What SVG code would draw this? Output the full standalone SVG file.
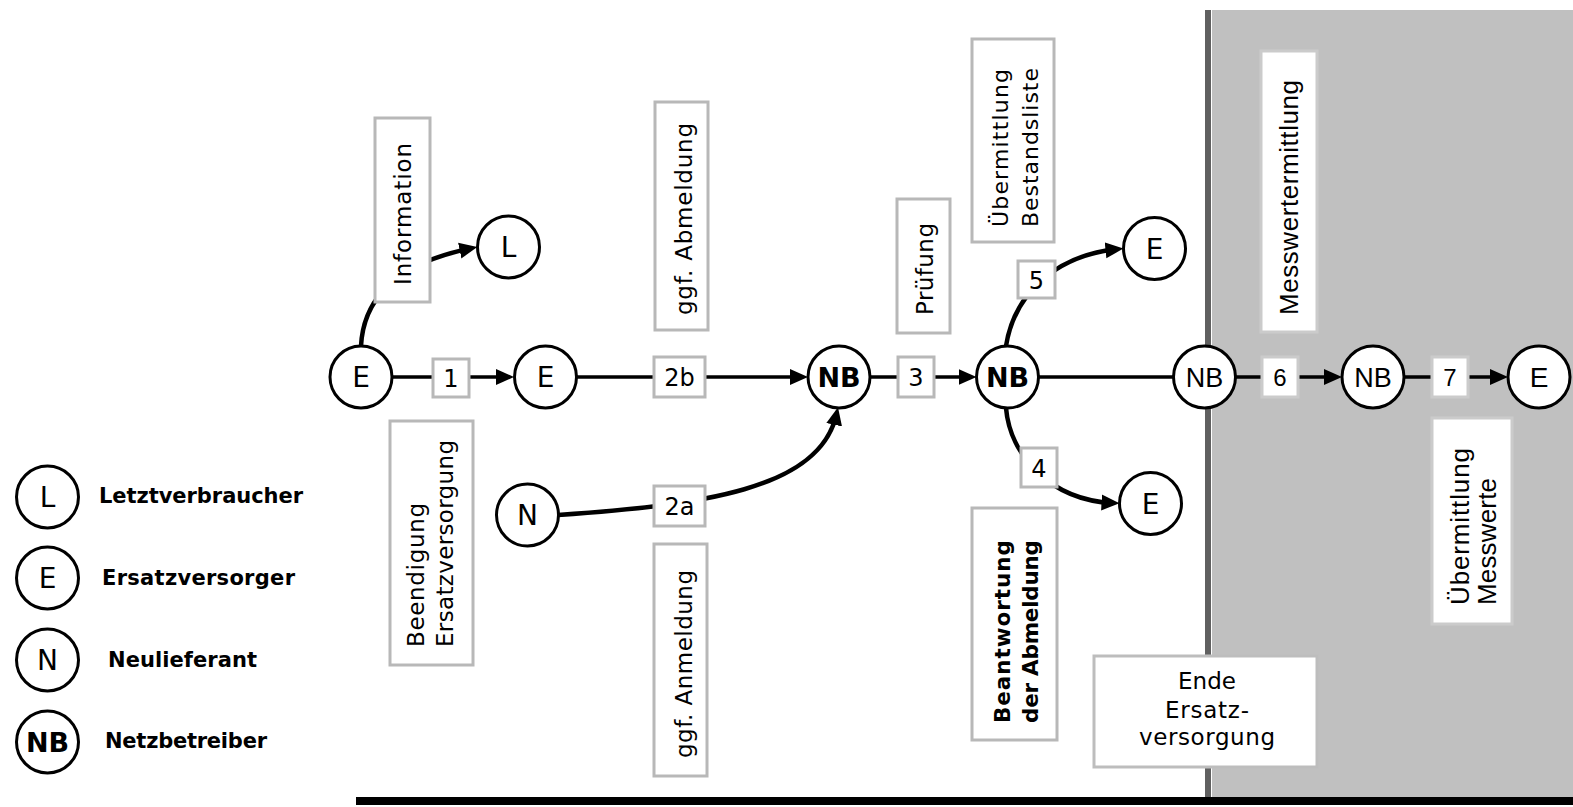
<svg xmlns="http://www.w3.org/2000/svg" width="1573" height="807" viewBox="0 0 1573 807">
<style>
.node circle{fill:#fff;stroke:#000;stroke-width:3}
.box{fill:#fff;stroke:#b8b8b8;stroke-width:3}
.boxg{fill:#fff;stroke:#cbcbcb;stroke-width:3}
.boxm{fill:#fff;stroke:#bdbdbd;stroke-width:3}
.t{font-family:"DejaVu Sans",Verdana,sans-serif;fill:#000}
.a{font-family:"Liberation Sans",Arial,sans-serif;fill:#000}
.nl{font-size:28px;text-anchor:middle}
.nb{font-size:27px;text-anchor:middle;font-weight:bold}
.nn{font-size:27px;text-anchor:middle}
.num{font-size:24px;text-anchor:middle}
.rot{font-size:23px}
.leg{font-size:21px;font-weight:bold}
.edge{fill:none;stroke:#000;stroke-width:3.5}
.curve{fill:none;stroke:#000;stroke-width:4.5}
.arr{marker-end:url(#arr)}
</style>
<defs>
<marker id="arr" markerUnits="userSpaceOnUse" markerWidth="18" markerHeight="17" refX="11" refY="8.5" orient="auto"><path d="M0,0.5 L18,8.5 L0,16.5 z" fill="#000"/></marker>
</defs>
<rect x="0" y="0" width="1573" height="807" fill="#fff"/>
<g id="background">
<rect x="1212" y="10" width="361" height="787" fill="#c0c0c0"/>
<rect x="1205" y="10" width="6" height="787" fill="#606060"/>
<rect x="356" y="797" width="1217" height="8" fill="#000"/>
</g>
<g id="connectors">
<path class="curve arr" d="M361,346 Q365,270 470.5,248.4"/>
<line class="edge arr" x1="392" y1="377" x2="507" y2="377"/>
<line class="edge arr" x1="576.5" y1="377" x2="801" y2="377"/>
<path class="curve arr" d="M558,515 C700,505 820,490 836.5,414"/>
<line class="edge arr" x1="870" y1="377" x2="969.5" y2="377"/>
<line class="edge" x1="1038.5" y1="377" x2="1174" y2="377"/>
<path class="curve arr" d="M1006,346 C1015,290 1060,255 1116.5,249.2"/>
<path class="curve arr" d="M1006,408 C1010,455 1050,500 1112.5,503"/>
<line class="edge arr" x1="1235.5" y1="377" x2="1335" y2="377"/>
<line class="edge arr" x1="1404" y1="377" x2="1501" y2="377"/>
</g>
<g id="edge-labels">
<g id="lbl1"><rect class="box" x="433" y="359" width="36" height="38"/><text class="t num" x="451" y="387">1</text></g>
<g id="lbl2b"><rect class="box" x="654" y="357" width="51" height="40"/><text class="t num" x="679.5" y="386">2b</text></g>
<g id="lbl2a"><rect class="box" x="654" y="486" width="51" height="40"/><text class="t num" x="679.5" y="515">2a</text></g>
<g id="lbl3"><rect class="box" x="898" y="357" width="36" height="40"/><text class="t num" x="916" y="386">3</text></g>
<g id="lbl4"><rect class="box" x="1021" y="448" width="36" height="39"/><text class="t num" x="1039" y="476.5">4</text></g>
<g id="lbl5"><rect class="box" x="1018" y="261" width="37" height="37"/><text class="t num" x="1036.5" y="288.5">5</text></g>
<g id="lbl6"><rect class="boxg" x="1262" y="357" width="36" height="40"/><text class="a num" x="1280" y="386">6</text></g>
<g id="lbl7"><rect class="boxg" x="1432" y="357" width="36" height="40"/><text class="a num" x="1450" y="386">7</text></g>
</g>
<g id="notes">
<g id="note-information"><rect class="box" x="375" y="118" width="55" height="184"/><text class="t rot" transform="translate(411,285) rotate(-90)" textLength="142">Information</text></g>
<g id="note-beendigung"><rect class="box" x="390" y="421" width="83" height="244"/><text class="t rot" transform="translate(424,647) rotate(-90)" textLength="144">Beendigung</text><text class="t rot" transform="translate(453,647) rotate(-90)" textLength="207">Ersatzversorgung</text></g>
<g id="note-abmeldung"><rect class="box" x="655" y="102" width="53" height="228"/><text class="t rot" transform="translate(692,315) rotate(-90)" textLength="192">ggf. Abmeldung</text></g>
<g id="note-anmeldung"><rect class="box" x="654" y="544" width="53" height="232"/><text class="t rot" transform="translate(692,758) rotate(-90)" textLength="188">ggf. Anmeldung</text></g>
<g id="note-pruefung"><rect class="box" x="897" y="199" width="53" height="134"/><text class="t rot" transform="translate(933,315) rotate(-90)" textLength="92">Prüfung</text></g>
<g id="note-bestandsliste"><rect class="box" x="972" y="39" width="82" height="203"/><text class="t" font-size="22" transform="translate(1008,227) rotate(-90)" textLength="158">Übermittlung</text><text class="t" font-size="22" transform="translate(1038,227) rotate(-90)" textLength="159">Bestandsliste</text></g>
<g id="note-beantwortung"><rect class="box" x="972" y="508" width="85" height="232"/><text class="t" font-size="21.5" font-weight="bold" transform="translate(1010,723) rotate(-90)" textLength="183">Beantwortung</text><text class="t" font-size="21.5" font-weight="bold" transform="translate(1038,723) rotate(-90)" textLength="183">der Abmeldung</text></g>
<g id="note-messwertermittlung"><rect class="boxg" x="1261" y="51" width="56" height="281"/><text class="a" font-size="26" transform="translate(1298,315) rotate(-90)" textLength="235">Messwertermittlung</text></g>
<g id="note-messwerte"><rect class="boxg" x="1432" y="418" width="80" height="206"/><text class="a" font-size="26" transform="translate(1469,605) rotate(-90)" textLength="157">Übermittlung</text><text class="a" font-size="26" transform="translate(1496,605) rotate(-90)" textLength="127">Messwerte</text></g>
<g id="note-ende"><rect class="boxm" x="1094" y="656" width="223" height="111"/><text class="t" font-size="23" text-anchor="middle" x="1207" y="689" textLength="58">Ende</text><text class="t" font-size="23" text-anchor="middle" x="1207" y="718" textLength="84">Ersatz-</text><text class="t" font-size="23" text-anchor="middle" x="1207" y="745" textLength="136">versorgung</text></g>
</g>
<g id="nodes">
<g id="E1" class="node"><circle cx="361" cy="377" r="31"/><text class="t nl" x="361" y="387">E</text></g>
<g id="L1" class="node"><circle cx="508.5" cy="247" r="31"/><text class="t nl" x="508.5" y="257">L</text></g>
<g id="E2" class="node"><circle cx="545.5" cy="377" r="31"/><text class="t nl" x="545.5" y="387">E</text></g>
<g id="N1" class="node"><circle cx="527.5" cy="515" r="31"/><text class="t nl" x="527.5" y="525">N</text></g>
<g id="NB1" class="node"><circle cx="839" cy="377" r="31"/><text class="t nb" x="839" y="387">NB</text></g>
<g id="NB2" class="node"><circle cx="1007.5" cy="377" r="31"/><text class="t nb" x="1007.5" y="387">NB</text></g>
<g id="E3" class="node"><circle cx="1154.5" cy="248.5" r="31"/><text class="t nl" x="1154.5" y="258.5">E</text></g>
<g id="E4" class="node"><circle cx="1150.5" cy="503.5" r="31"/><text class="t nl" x="1150.5" y="513.5">E</text></g>
<g id="NB3" class="node"><circle cx="1204.5" cy="377" r="31"/><text class="a nn" x="1204.5" y="387">NB</text></g>
<g id="NB4" class="node"><circle cx="1373" cy="377" r="31"/><text class="a nn" x="1373" y="387">NB</text></g>
<g id="E5" class="node"><circle cx="1539" cy="377" r="31"/><text class="a nl" x="1539" y="387">E</text></g>
</g>
<g id="legend">
<g id="leg-L" class="node"><circle cx="47.5" cy="497" r="31"/><text class="t nl" x="47.5" y="507">L</text><text class="t leg" x="99" y="503" textLength="204">Letztverbraucher</text></g>
<g id="leg-E" class="node"><circle cx="47.5" cy="578" r="31"/><text class="t nl" x="47.5" y="588">E</text><text class="t leg" x="102" y="585" textLength="193">Ersatzversorger</text></g>
<g id="leg-N" class="node"><circle cx="47.5" cy="660" r="31"/><text class="t nl" x="47.5" y="670">N</text><text class="t leg" x="108" y="667" textLength="149">Neulieferant</text></g>
<g id="leg-NB" class="node"><circle cx="47.5" cy="742" r="31"/><text class="t nb" x="47.5" y="752">NB</text><text class="t leg" x="105" y="748" textLength="162">Netzbetreiber</text></g>
</g>
</svg>
